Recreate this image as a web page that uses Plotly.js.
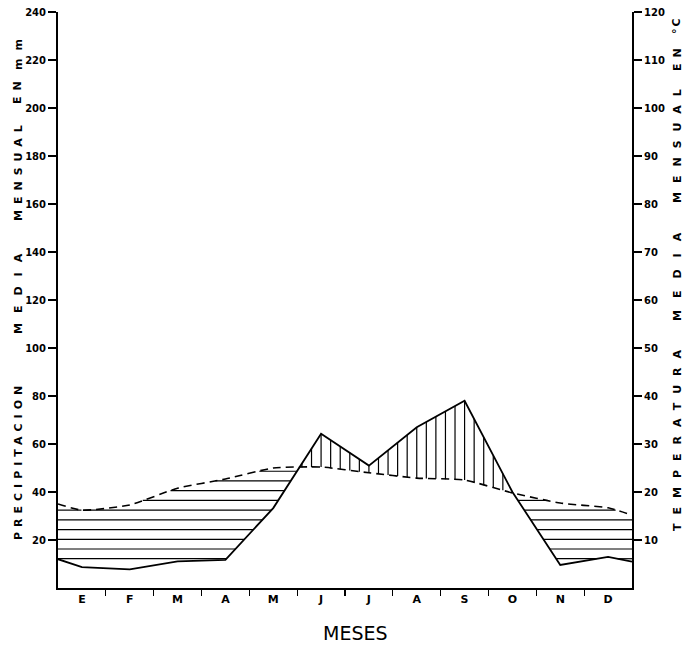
<!DOCTYPE html>
<html>
<head>
<meta charset="utf-8">
<script src="https://cdn.plot.ly/plotly-3.0.1.min.js"></script>
<style>html,body{margin:0;padding:0;background:#fff;}#chart{width:690px;height:646px;}</style>
</head>
<body>
<div id="chart"></div>
<script>
// ---- data ----
const months = ['E','F','M','A','M','J','J','A','S','O','N','D'];
const precipMM = [8.7, 7.8, 11.1, 11.7, 33.3, 64.3, 51.0, 67.0, 78.0, 40.0, 9.6, 13.0];
const tempC = [16.2, 17.3, 20.8, 22.7, 25.0, 25.2, 24.0, 22.9, 22.5, 19.8, 17.7, 16.7];
const precipEdges = [12.0, 11.0];   // values drawn at the start / end of the year
const tempEdges = [17.5, 15.2];
const precipTicks = [20, 40, 60, 80, 100, 120, 140, 160, 180, 200, 220, 240];
const tempTicks = [10, 20, 30, 40, 50, 60, 70, 80, 90, 100, 110, 120];

// ---- build series on a month axis (0..12, month centres at i+0.5) ----
const xs = [0].concat(months.map((m, i) => i + 0.5), [12]);
const P = [precipEdges[0]].concat(precipMM, [precipEdges[1]]);
const T = [tempEdges[0]].concat(tempC, [tempEdges[1]]);
const T2 = T.map(v => v * 2); // temperature in precipitation units (1 °C = 2 mm)

function lin(ys, x) {
  for (let i = 0; i < xs.length - 1; i++) {
    if (x >= xs[i] && x <= xs[i + 1]) {
      const f = (x - xs[i]) / (xs[i + 1] - xs[i]);
      return ys[i] + f * (ys[i + 1] - ys[i]);
    }
  }
  return ys[ys.length - 1];
}

// horizontal hatch (dry period: temperature curve above precipitation)
const hx = [], hy = [];
for (let L = 12.2; L < 60; L += 4.05) {
  let start = null;
  const step = 0.002;
  for (let x = 0; x <= 12 + 1e-9; x += step) {
    const inside = lin(P, x) < L && lin(T2, x) > L;
    if (inside && start === null) start = x;
    if ((!inside || x + step > 12) && start !== null) {
      const end = inside ? 12 : x - step;
      if (end > start) { hx.push(start, end, null); hy.push(L, L, null); }
      start = null;
    }
  }
}
// vertical hatch (humid period: precipitation above temperature curve)
const vx = [], vy = [];
for (let x = 0.1; x < 12; x += 0.2) {
  const p = lin(P, x), t = lin(T2, x);
  if (p > t) { vx.push(x, x, null); vy.push(t, p, null); }
}

const traces = [
  {x: hx, y: hy, mode: 'lines', line: {color: '#000', width: 1.2}, hoverinfo: 'skip', showlegend: false},
  {x: vx, y: vy, mode: 'lines', line: {color: '#000', width: 1.2}, hoverinfo: 'skip', showlegend: false},
  {x: xs, y: P, mode: 'lines', name: 'Precipitación', line: {color: '#000', width: 1.8}, showlegend: false},
  {x: xs, y: T, yaxis: 'y2', mode: 'lines', name: 'Temperatura', line: {color: '#000', width: 1.6, dash: '8px,5px', shape: 'spline', smoothing: 0.5}, showlegend: false}
];

const tickFont = {family: 'DejaVu Sans', size: 10, color: '#000', weight: 'bold'};
const titleFont = {family: 'DejaVu Sans', size: 11, color: '#000', weight: 'bold'};

function px2x(px) { return (px - 58) / 574; }
function px2y(py) { return (588 - py) / 576; }
function word(text, px, py, spacing) {
  return {
    xref: 'paper', yref: 'paper', x: px2x(px), y: px2y(py),
    text: '<span style="letter-spacing:' + spacing + 'px">' + text + '</span>',
    showarrow: false, textangle: -90, font: titleFont,
    xanchor: 'center', yanchor: 'middle'
  };
}

const annotations = [
  word('PRECIPITACION', 18, 461, 5),
  word('MEDIA', 18, 289, 10),
  word('MENSUAL', 18, 170, 6),
  word('EN', 18, 90, 6),
  word('mm', 18, 51, 8),
  word('TEMPERATURA', 677, 436, 9),
  word('MEDIA', 677, 271, 12),
  word('MENSUAL', 677, 142, 9),
  word('EN', 677, 57, 6),
  word('°C', 677, 25, 2),
  {xref: 'paper', yref: 'paper', x: px2x(355), y: px2y(633), text: 'MESES', showarrow: false,
   font: {family: 'DejaVu Sans', size: 19, color: '#000'}, xanchor: 'center', yanchor: 'middle'}
];

const layout = {
  width: 690, height: 646,
  margin: {l: 58, r: 58, t: 12, b: 58},
  paper_bgcolor: '#fff', plot_bgcolor: '#fff',
  showlegend: false,
  xaxis: {
    range: [0, 12], tickmode: 'array', tickvals: months.map((m, i) => i + 0.5), ticktext: months,
    ticks: '', showline: true, linecolor: '#000', linewidth: 2, showgrid: false, zeroline: false,
    tickfont: {family: 'DejaVu Sans', size: 11, color: '#000', weight: 'bold'},
    minor: {tickmode: 'array', tickvals: [1,2,3,4,5,6,7,8,9,10,11], ticks: 'outside', ticklen: 6, tickwidth: 1.3, tickcolor: '#000', showgrid: false},
    fixedrange: true
  },
  yaxis: {
    range: [0, 240], tickmode: 'array', tickvals: precipTicks, ticktext: precipTicks.map(String),
    ticks: 'outside', ticklen: 8, tickwidth: 1.5, tickcolor: '#000',
    showline: true, linecolor: '#000', linewidth: 2, showgrid: false, zeroline: false,
    tickfont: tickFont, fixedrange: true
  },
  yaxis2: {
    overlaying: 'y', side: 'right', range: [0, 120], tickmode: 'array', tickvals: tempTicks, ticktext: tempTicks.map(String),
    ticks: 'outside', ticklen: 8, tickwidth: 1.5, tickcolor: '#000',
    showline: true, linecolor: '#000', linewidth: 2, showgrid: false, zeroline: false,
    tickfont: tickFont, fixedrange: true
  },
  annotations: annotations
};

Plotly.newPlot('chart', traces, layout, {displayModeBar: false, staticPlot: true});
</script>
</body>
</html>
